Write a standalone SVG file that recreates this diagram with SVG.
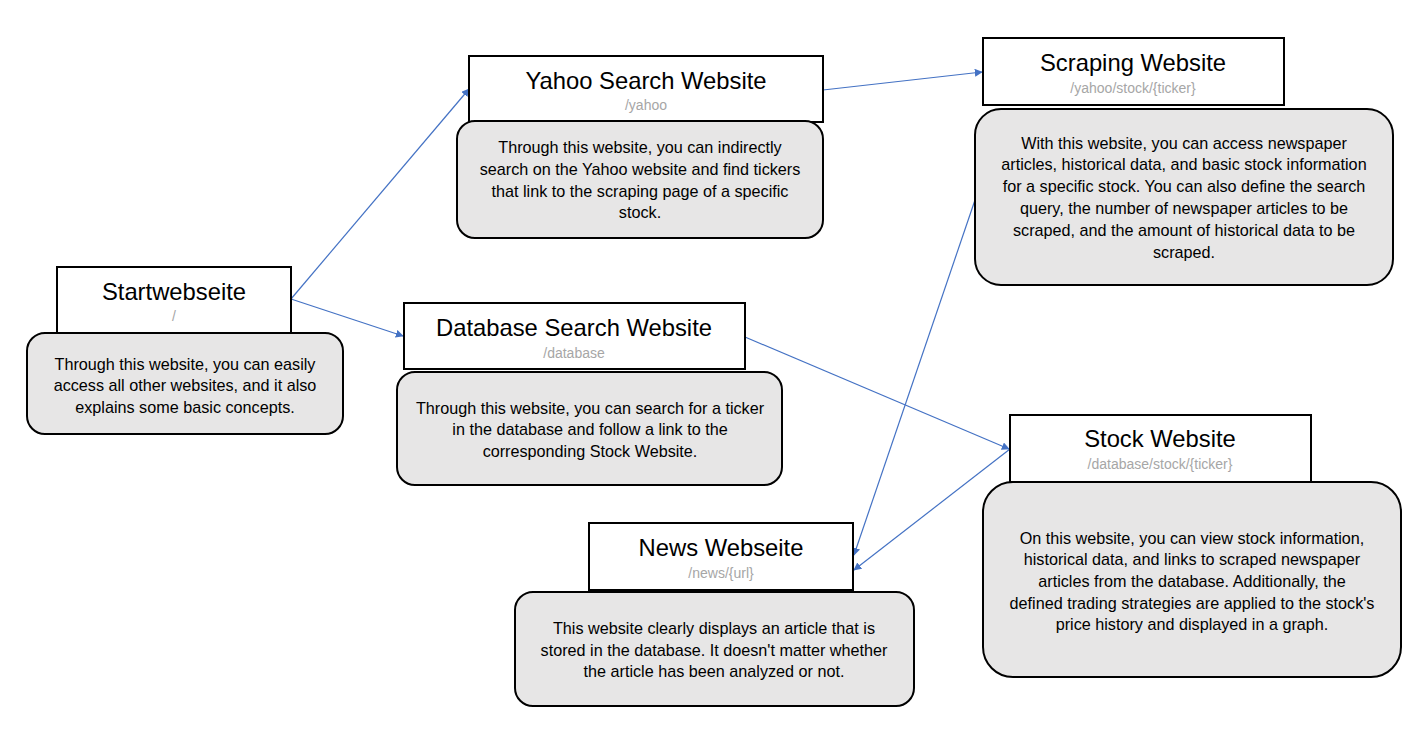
<svg xmlns="http://www.w3.org/2000/svg" width="1423" height="732" viewBox="0 0 1423 732">
<defs>
<style>
.tb{fill:#fff;stroke:#000;stroke-width:2}
.db{fill:#e7e6e6;stroke:#000;stroke-width:2}
.t{font-family:"Liberation Sans",Arial,sans-serif;font-size:23.8px;fill:#000;text-anchor:middle}
.s{font-family:"Liberation Sans",Arial,sans-serif;font-size:14px;fill:#a6a6a6;text-anchor:middle}
.d{font-family:"Liberation Sans",Arial,sans-serif;font-size:16.2px;fill:#000;text-anchor:middle}
.c{stroke:#4472c4;stroke-width:1.2;fill:none;marker-end:url(#ah)}
</style>
<marker id="ah" viewBox="0 0 10 10" refX="9" refY="5" markerWidth="8" markerHeight="8" markerUnits="userSpaceOnUse" orient="auto">
<path d="M0,0 L10,5 L0,10 z" fill="#4472c4"/>
</marker>
</defs>
<rect width="1423" height="732" fill="#fff"/>
<g id="connectors">
<line class="c" x1="291" y1="299" x2="469" y2="89"/>
<line class="c" x1="291" y1="299" x2="403" y2="336"/>
<line class="c" x1="823" y1="90" x2="982" y2="72"/>
<line class="c" x1="745" y1="337" x2="1009" y2="449"/>
<line class="c" x1="975" y1="200" x2="854" y2="555"/>
<line class="c" x1="1010" y1="449" x2="854" y2="570"/>
</g>
<g id="start">
<rect class="tb" x="57" y="267" width="234" height="66"/>
<text class="t" x="174" y="300">Startwebseite</text>
<text class="s" x="174" y="321">/</text>
<rect class="db" x="27" y="333" width="316" height="101" rx="18"/>
<text class="d" x="185" y="370">Through this website, you can easily</text>
<text class="d" x="185" y="391">access all other websites, and it also</text>
<text class="d" x="185" y="413">explains some basic concepts.</text>
</g>
<g id="yahoo">
<rect class="tb" x="469" y="56" width="354" height="66"/>
<text class="t" x="646" y="89">Yahoo Search Website</text>
<text class="s" x="646" y="110">/yahoo</text>
<rect class="db" x="457" y="121" width="366" height="117" rx="18"/>
<text class="d" x="640" y="153">Through this website, you can indirectly</text>
<text class="d" x="640" y="175">search on the Yahoo website and find tickers</text>
<text class="d" x="640" y="197">that link to the scraping page of a specific</text>
<text class="d" x="640" y="218">stock.</text>
</g>
<g id="scraping">
<rect class="tb" x="983" y="38" width="301" height="67"/>
<text class="t" x="1133" y="71">Scraping Website</text>
<text class="s" x="1133" y="93">/yahoo/stock/{ticker}</text>
<rect class="db" x="975" y="109" width="418" height="176" rx="26"/>
<text class="d" x="1184" y="149">With this website, you can access newspaper</text>
<text class="d" x="1184" y="170">articles, historical data, and basic stock information</text>
<text class="d" x="1184" y="192">for a specific stock. You can also define the search</text>
<text class="d" x="1184" y="214">query, the number of newspaper articles to be</text>
<text class="d" x="1184" y="236">scraped, and the amount of historical data to be</text>
<text class="d" x="1184" y="258">scraped.</text>
</g>
<g id="database">
<rect class="tb" x="404" y="303" width="341" height="66"/>
<text class="t" x="574" y="336">Database Search Website</text>
<text class="s" x="574" y="358">/database</text>
<rect class="db" x="397" y="372" width="385" height="113" rx="18"/>
<text class="d" x="590" y="414">Through this website, you can search for a ticker</text>
<text class="d" x="590" y="435">in the database and follow a link to the</text>
<text class="d" x="590" y="457">corresponding Stock Website.</text>
</g>
<g id="stock">
<rect class="tb" x="1010" y="415" width="301" height="67"/>
<text class="t" x="1160" y="447">Stock Website</text>
<text class="s" x="1160" y="469">/database/stock/{ticker}</text>
<rect class="db" x="983" y="482" width="418" height="195" rx="30"/>
<text class="d" x="1192" y="544">On this website, you can view stock information,</text>
<text class="d" x="1192" y="565">historical data, and links to scraped newspaper</text>
<text class="d" x="1192" y="587">articles from the database. Additionally, the</text>
<text class="d" x="1192" y="609">defined trading strategies are applied to the stock's</text>
<text class="d" x="1192" y="630">price history and displayed in a graph.</text>
</g>
<g id="news">
<rect class="tb" x="589" y="523" width="264" height="67"/>
<text class="t" x="721" y="556">News Webseite</text>
<text class="s" x="721" y="578">/news/{url}</text>
<rect class="db" x="515" y="592" width="399" height="114" rx="18"/>
<text class="d" x="714" y="634">This website clearly displays an article that is</text>
<text class="d" x="714" y="656">stored in the database. It doesn't matter whether</text>
<text class="d" x="714" y="677">the article has been analyzed or not.</text>
</g>
</svg>
